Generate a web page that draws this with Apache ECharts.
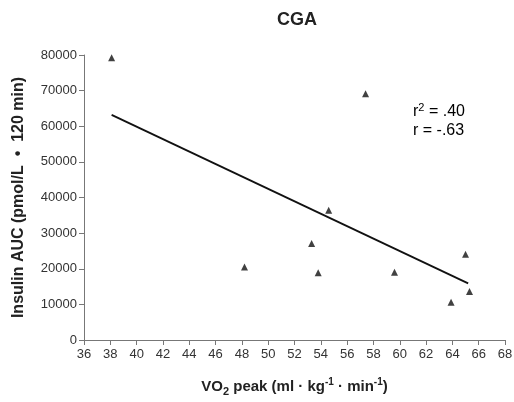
<!DOCTYPE html>
<html><head><meta charset="utf-8">
<script src="https://cdn.jsdelivr.net/npm/echarts@6/dist/echarts.min.js"></script>
<style>html,body{margin:0;padding:0;background:#fff}#c{width:514px;height:402px}</style>
</head><body><div id="c"></div>
<script>
const vo2Peak = [38.1, 48.2, 53.3, 53.8, 54.6, 57.4, 59.6, 63.9, 65.0, 65.3];
const insulinAUC = [79200, 20500, 27100, 18900, 36400, 69100, 19000, 10600, 24100, 13600];
const fitX = [38.1, 65.2];
const fitY = [63200, 15900];
const xTicks = {min: 36, max: 68, interval: 2};
const yTicks = {min: 0, max: 80000, interval: 10000};
const titleText = 'CGA';

const font = 'Liberation Sans, Arial, sans-serif';
const chart = echarts.init(document.getElementById('c'));
const axisCommon = {
  axisLine: {show: true, lineStyle: {color: '#777', width: 1}},
  axisTick: {show: true, length: 5, lineStyle: {color: '#777'}},
  splitLine: {show: false},
  axisLabel: {color: '#333', fontSize: 13, fontFamily: font}
};
chart.setOption({
  animation: false,
  title: {text: titleText, left: 292, top: 6, textAlign: 'center',
    textStyle: {fontSize: 18, fontWeight: 'bold', color: '#222', fontFamily: font}},
  grid: {left: 84, right: 9, top: 55, bottom: 62, containLabel: false, outerBoundsMode: 'none'},
  xAxis: Object.assign({}, axisCommon, {
    type: 'value', min: xTicks.min, max: xTicks.max, interval: xTicks.interval,
    axisLabel: Object.assign({}, axisCommon.axisLabel, {margin: 8}),
    name: '{b|VO}{sub|2}{b| peak (ml · kg}{sup|-1}{b| · min}{sup|-1}{b|)}',
    nameLocation: 'middle', nameGap: 37,
    nameTextStyle: {rich: {
      b: {fontSize: 15, fontWeight: 'bold', color: '#222', fontFamily: font, lineHeight: 20, verticalAlign: 'middle'},
      sub: {fontSize: 11, fontWeight: 'bold', color: '#222', fontFamily: font, lineHeight: 10, verticalAlign: 'bottom'},
      sup: {fontSize: 10, fontWeight: 'bold', color: '#222', fontFamily: font, lineHeight: 10, verticalAlign: 'top'}
    }}
  }),
  yAxis: Object.assign({}, axisCommon, {
    type: 'value', min: yTicks.min, max: yTicks.max, interval: yTicks.interval,
    axisLabel: Object.assign({}, axisCommon.axisLabel, {margin: 7, formatter: v => String(v)}),
    name: 'Insulin AUC (pmol/L  •  120 min)', nameLocation: 'middle', nameGap: 57,
    nameTextStyle: {fontSize: 16, fontWeight: 'bold', color: '#222', fontFamily: font}
  }),
  graphic: [{
    type: 'text', left: 413, top: 102,
    style: {text: '{t|r}{s|2}{t| = .40}\n{t|r = -.63}', fontFamily: font,
      rich: {t: {fontSize: 16, color: '#222', fontFamily: font, lineHeight: 19},
             s: {fontSize: 11, color: '#222', fontFamily: font, verticalAlign: 'top', lineHeight: 10}}}
  }],
  series: [{
    type: 'line', data: fitX.map((x, i) => [x, fitY[i]]), symbol: 'none',
    lineStyle: {color: '#111', width: 1.8}, silent: true
  }, {
    type: 'scatter', data: vo2Peak.map((x, i) => [x, insulinAUC[i]]),
    symbol: 'triangle', symbolSize: [7, 7], itemStyle: {color: '#111'}
  }]
});
</script></body></html>
